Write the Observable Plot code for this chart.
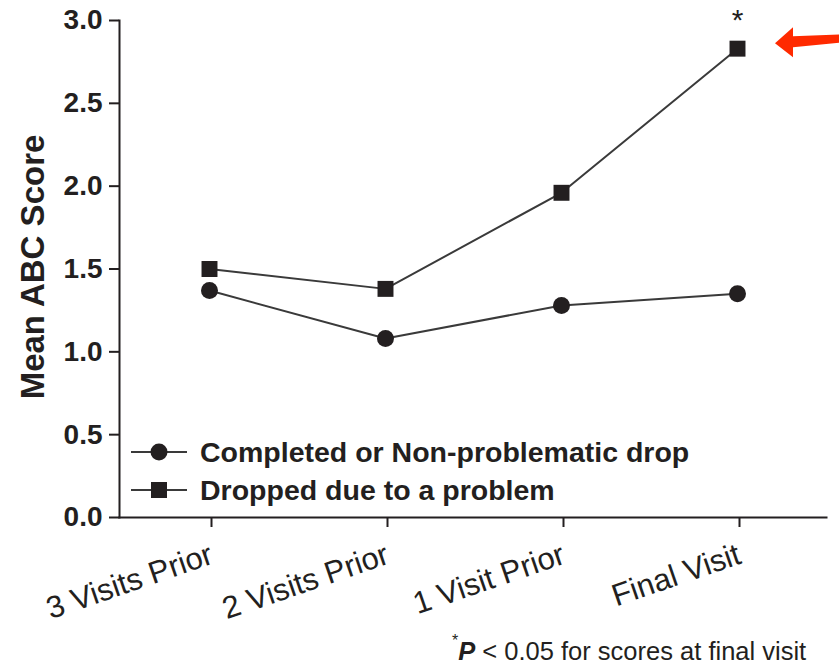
<!DOCTYPE html>
<html>
<head>
<meta charset="utf-8">
<script src="https://cdn.jsdelivr.net/npm/d3@7"></script>
<script src="https://cdn.jsdelivr.net/npm/@observablehq/plot@0.6"></script>
<style>
  html, body { margin: 0; padding: 0; background: #fff; }
  #wrap { position: relative; width: 839px; height: 672px; overflow: hidden; }
  .legend { position: absolute; left: 131px; top: 433px; font-family: "Liberation Sans", Arial, sans-serif; font-weight: bold; font-size: 28.5px; color: #231f20; }
  .legend .row { display: flex; align-items: center; height: 38px; }
  .legend svg { margin-right: 13px; }
  .foot { position: absolute; left: 452px; top: 637px; font-family: "Liberation Sans", Arial, sans-serif; font-size: 25.5px; line-height: 28px; color: #231f20; white-space: nowrap; }
  .foot sup { font-size: 16px; line-height: 0; position: relative; top: -5px; }
</style>
</head>
<body>
<div id="wrap"></div>
<script>
const categories = ["3 Visits Prior", "2 Visits Prior", "1 Visit Prior", "Final Visit"];
const seriesNames = ["Completed or Non-problematic drop", "Dropped due to a problem"];
const completed = [1.37, 1.08, 1.28, 1.35];
const dropped = [1.50, 1.38, 1.96, 2.83];
const yTicks = [0, 0.5, 1.0, 1.5, 2.0, 2.5, 3.0];
const yLabel = "Mean ABC Score";
const sigMark = "*";
const footnote = "P < 0.05 for scores at final visit";

const ink = "#231f20";
const lineColor = "#3a3a3a";
const rowsA = categories.map((c, i) => ({cat: c, v: completed[i]}));
const rowsB = categories.map((c, i) => ({cat: c, v: dropped[i]}));
const last = rowsB[rowsB.length - 1];

const plot = Plot.plot({
  width: 839,
  height: 672,
  marginLeft: 119,
  marginRight: 13,
  marginTop: 20,
  marginBottom: 155,
  style: {fontFamily: "'Liberation Sans', Arial, sans-serif", color: ink, background: "#fff"},
  x: {type: "point", domain: categories, padding: 0.5, label: null},
  y: {domain: [0, 3], label: null},
  marks: [
    Plot.frame({anchor: "left", stroke: ink, strokeWidth: 2}),
    Plot.frame({anchor: "bottom", stroke: ink, strokeWidth: 2}),
    Plot.axisY({ticks: yTicks, tickFormat: d3.format(".1f"), tickSize: 10, tickPadding: 7,
      fontSize: 28, fontWeight: "bold", stroke: ink, strokeWidth: 2, label: null}),
    Plot.axisX({tickSize: 10, tickRotate: -19, tickPadding: 26, dx: 2, stroke: ink, strokeWidth: 2,
      fontSize: 31, label: null}),
    Plot.text([yLabel], {frameAnchor: "left", textAnchor: "middle", rotate: -90, dx: -86, dy: -2,
      fontSize: 33, fontWeight: "bold", fill: ink}),
    Plot.line(rowsA, {x: "cat", y: "v", stroke: lineColor, strokeWidth: 2}),
    Plot.line(rowsB, {x: "cat", y: "v", stroke: lineColor, strokeWidth: 2}),
    Plot.dot(rowsA, {x: "cat", y: "v", r: 8.5, symbol: "circle", fill: ink}),
    Plot.dot(rowsB, {x: "cat", y: "v", r: 9, symbol: "square", fill: ink}),
    Plot.text([last], {x: "cat", y: "v", text: () => sigMark, dy: -28, fontSize: 30, fill: ink})
  ]
});

const wrap = document.getElementById("wrap");
wrap.appendChild(plot);

// red annotation arrow pointing at the final "dropped" point
const px = plot.scale("x").apply(last.cat);
const py = plot.scale("y").apply(last.v);
const svg = d3.select(plot);
const tX = px + 38, tY = py - 5;
svg.append("path")
  .attr("fill", "#ff2a00")
  .attr("d", `M${tX},${tY} L${tX + 18},${tY - 16} L${tX + 18},${tY - 7} L${tX + 70},${tY - 9} L${tX + 70},${tY - 1} L${tX + 18},${tY + 4} L${tX + 18},${tY + 14} Z`);

// legend
const leg = document.createElement("div");
leg.className = "legend";
seriesNames.forEach((name, i) => {
  const row = document.createElement("div");
  row.className = "row";
  const sym = i === 0
    ? `<circle cx="28" cy="15" r="8.5" fill="${ink}"/>`
    : `<rect x="20" y="7" width="16" height="16" fill="${ink}"/>`;
  row.innerHTML = `<svg width="56" height="30"><line x1="0" x2="56" y1="15" y2="15" stroke="${lineColor}" stroke-width="2"/>${sym}</svg><span>${name}</span>`;
  leg.appendChild(row);
});
wrap.appendChild(leg);

// footnote
const foot = document.createElement("div");
foot.className = "foot";
foot.innerHTML = `<sup>${sigMark}</sup><b><i>P</i></b>${footnote.slice(1)}`;
wrap.appendChild(foot);
</script>
</body>
</html>
